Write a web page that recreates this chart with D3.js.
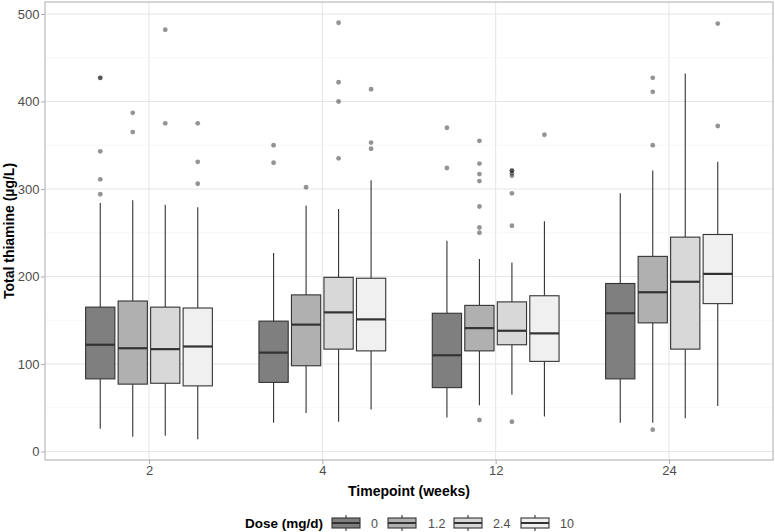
<!DOCTYPE html>
<html><head><meta charset="utf-8">
<script src="https://cdn.jsdelivr.net/npm/d3@7"></script>
<style>body{margin:0;background:#fff;} svg{display:block;font-family:"Liberation Sans",Arial,sans-serif;}</style>
</head><body>
<svg id="chart" width="775" height="532"></svg>
<script>
const timepoints = ["2", "4", "12", "24"];
const doses = ["0", "1.2", "2.4", "10"];
const doseFills = ["#7f7f7f", "#b0b0b0", "#d8d8d8", "#f0f0f0"];
const yTicks = [0, 100, 200, 300, 400, 500];
// box statistics [timepoint][dose]
const lowerWhisker = [[26, 17, 18, 14], [33, 44, 34, 48], [39, 53, 65, 40], [33, 33, 38, 52]];
const q1 = [[83, 77, 78, 75], [79, 98, 117, 115], [73, 115, 122, 103], [83, 147, 117, 169]];
const medians = [[122, 118, 117, 120], [113, 145, 159, 151], [110, 141, 138, 135], [158, 182, 194, 203]];
const q3 = [[165, 172, 165, 164], [149, 179, 199, 198], [158, 167, 171, 178], [192, 223, 245, 248]];
const upperWhisker = [[284, 287, 282, 279], [227, 281, 277, 310], [241, 220, 216, 263], [295, 321, 432, 331]];
const outliers = [
  [[427, 427, 343, 311, 294], [387, 365], [482, 375], [375, 331, 306]],
  [[350, 330], [302], [490, 422, 400, 335], [414, 353, 346]],
  [[370, 324], [355, 329, 317, 309, 280, 256, 250, 36], [321, 321, 318, 315, 295, 258, 34], [362]],
  [[], [427, 411, 350, 25], [], [489, 372]]
];

const svg = d3.select("#chart");
const panel = {left: 45, right: 773, top: 2, bottom: 460};

// ggplot discrete expansion: 0.6 units on each side
const xBand = d3.scalePoint().domain(timepoints).range([panel.left, panel.right]).padding(0.6);
const step = xBand.step();
const xDodge = d3.scaleBand().domain(doses).range([-0.375 * step, 0.375 * step]);
const boxW = xDodge.bandwidth() * 0.9;

const y = d3.scaleLinear().domain([-9.7, 513.7]).range([panel.bottom, panel.top]);

// grid
const g = svg.append("g");
const minorTicks = [50, 150, 250, 350, 450];
g.selectAll(".minor").data(minorTicks).join("line")
  .attr("x1", panel.left).attr("x2", panel.right)
  .attr("y1", d => y(d)).attr("y2", d => y(d))
  .attr("stroke", "#f2f2f2").attr("stroke-width", 0.6);
g.selectAll(".major").data(yTicks).join("line")
  .attr("x1", panel.left).attr("x2", panel.right)
  .attr("y1", d => y(d)).attr("y2", d => y(d))
  .attr("stroke", "#e5e5e5").attr("stroke-width", 1);
g.selectAll(".vmajor").data(timepoints).join("line")
  .attr("x1", d => xBand(d)).attr("x2", d => xBand(d))
  .attr("y1", panel.top).attr("y2", panel.bottom)
  .attr("stroke", "#e5e5e5").attr("stroke-width", 1);

// boxes
const boxes = [];
timepoints.forEach((t, i) => doses.forEach((d, j) => boxes.push({
  t, d, j, lo: lowerWhisker[i][j], q1: q1[i][j], med: medians[i][j], q3: q3[i][j], hi: upperWhisker[i][j], out: outliers[i][j]
})));
const cx = b => xBand(b.t) + xDodge(b.d) + xDodge.bandwidth() / 2;
const bg = svg.append("g");
boxes.forEach(b => {
  const c = cx(b);
  const gg = bg.append("g");
  gg.append("line").attr("x1", c).attr("x2", c).attr("y1", y(b.hi)).attr("y2", y(b.q3)).attr("stroke", "#333").attr("stroke-width", 1.1);
  gg.append("line").attr("x1", c).attr("x2", c).attr("y1", y(b.q1)).attr("y2", y(b.lo)).attr("stroke", "#333").attr("stroke-width", 1.1);
  gg.append("rect").attr("x", c - boxW / 2).attr("width", boxW)
    .attr("y", y(b.q3)).attr("height", y(b.q1) - y(b.q3))
    .attr("fill", doseFills[b.j]).attr("stroke", "#333").attr("stroke-width", 1.1);
  gg.append("line").attr("x1", c - boxW / 2).attr("x2", c + boxW / 2).attr("y1", y(b.med)).attr("y2", y(b.med))
    .attr("stroke", "#333").attr("stroke-width", 2.2);
  gg.selectAll("circle").data(b.out).join("circle")
    .attr("cx", c).attr("cy", v => y(v)).attr("r", 2.4)
    .attr("fill", "#000").attr("fill-opacity", 0.42);
});

// panel border
svg.append("rect").attr("x", panel.left).attr("y", panel.top)
  .attr("width", panel.right - panel.left).attr("height", panel.bottom - panel.top)
  .attr("fill", "none").attr("stroke", "#b3b3b3").attr("stroke-width", 1.1);

// axes
const yAxis = svg.append("g").attr("transform", `translate(${panel.left},0)`)
  .call(d3.axisLeft(y).tickValues(yTicks).tickSize(4).tickPadding(1.5));
const xAxis = svg.append("g").attr("transform", `translate(0,${panel.bottom})`)
  .call(d3.axisBottom(xBand).tickSize(4).tickPadding(2));
[yAxis, xAxis].forEach(a => {
  a.select(".domain").remove();
  a.selectAll(".tick line").attr("stroke", "#b3b3b3").attr("stroke-width", 1.1);
  a.selectAll(".tick text").attr("fill", "#4d4d4d").attr("font-size", 13).attr("font-family", "Liberation Sans, Arial, sans-serif");
});

svg.append("text").attr("x", (panel.left + panel.right) / 2).attr("y", 496)
  .attr("text-anchor", "middle").attr("font-weight", "bold").attr("font-size", 14).attr("fill", "#000")
  .text("Timepoint (weeks)");
svg.append("text").attr("transform", `translate(14,${(panel.top + panel.bottom) / 2}) rotate(-90)`)
  .attr("text-anchor", "middle").attr("font-weight", "bold").attr("font-size", 14).attr("fill", "#000")
  .text("Total thiamine (µg/L)");

// legend
const leg = svg.append("g");
const legY = 523;
leg.append("text").attr("x", 245).attr("y", legY + 5).attr("font-weight", "bold").attr("font-size", 13.5).attr("fill", "#000")
  .text("Dose (mg/d)");
const keyX = [332, 388, 454, 521];
const labX = [371, 428, 493, 560];
doses.forEach((d, j) => {
  const kx = keyX[j], kw = 28;
  const c = kx + kw / 2;
  leg.append("line").attr("x1", c).attr("x2", c).attr("y1", legY - 8).attr("y2", legY + 8).attr("stroke", "#333").attr("stroke-width", 1.1);
  leg.append("rect").attr("x", kx).attr("y", legY - 5).attr("width", kw).attr("height", 10)
    .attr("fill", doseFills[j]).attr("stroke", "#333").attr("stroke-width", 1.1);
  leg.append("line").attr("x1", kx).attr("x2", kx + kw).attr("y1", legY).attr("y2", legY).attr("stroke", "#333").attr("stroke-width", 2);
  leg.append("text").attr("x", labX[j]).attr("y", legY + 4.5).attr("font-size", 12.5).attr("fill", "#4d4d4d").text(d);
});
</script>
</body></html>
